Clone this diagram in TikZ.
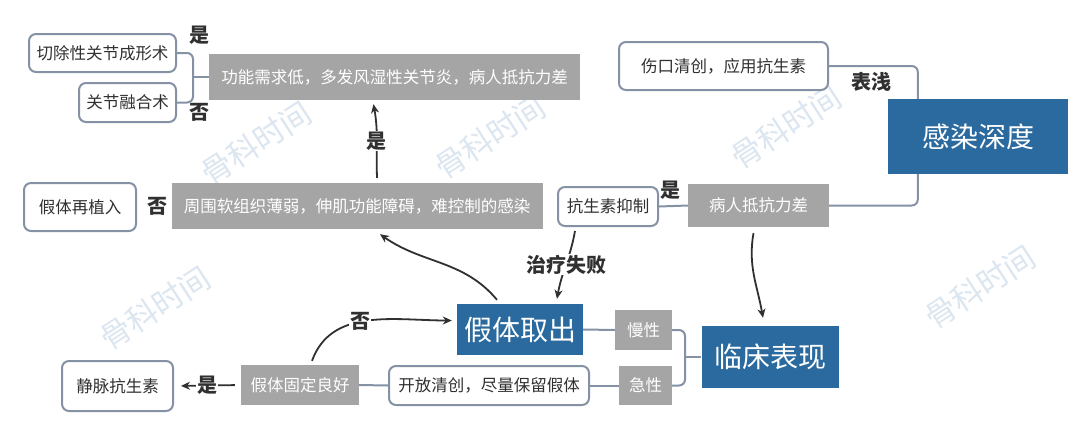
\documentclass[tikz,border=0pt]{standalone}
\usepackage{fontspec}
\setmainfont{Noto Sans CJK SC}
\usetikzlibrary{arrows.meta, positioning, calc}
\definecolor{boxgray}{HTML}{A5A5A5}
\definecolor{deepblue}{HTML}{2B6A9E}
\definecolor{linegray}{HTML}{8592A6}
\definecolor{inkdark}{HTML}{303030}
\definecolor{markblue}{HTML}{DCE6F0}
\tikzset{
    mindmap/.style={x=1pt, y=-1pt, >={Stealth[length=9pt, width=8pt]}},
    graybox/.style={fill=boxgray, text=white, inner sep=0pt, font=\fontsize{16.5}{19}\selectfont},
    bluebox/.style={fill=deepblue, text=white, inner sep=0pt, font=\fontsize{28}{31}\selectfont},
    whitebox/.style={draw=linegray, fill=white, line width=2pt, rounded corners=7pt, inner sep=0pt, text=inkdark, font=\fontsize{16.5}{19}\selectfont},
    link/.style={draw=linegray, line width=2pt, rounded corners=6pt},
    flow/.style={->, draw=inkdark, line width=1.8pt},
    % bold yes/no words that sit on or beside a connector
    tag/.style={text=inkdark, inner sep=1pt, font=\bfseries\fontsize{20}{22}\selectfont},
    stamp/.style={text=markblue, rotate=33, font=\fontsize{31}{33}\selectfont},
}

\begin{document}
\begin{tikzpicture}[mindmap]
    \fill[white] (0,0) rectangle (1080,432);
    \useasboundingbox (0,0) rectangle (1080,432);

    % watermarks
    \node[stamp] (mark1) at (256,143) {骨科时间};
    \node[stamp] (mark2) at (490,137) {骨科时间};
    \node[stamp] (mark3) at (786,127) {骨科时间};
    \node[stamp] (mark4) at (155,308) {骨科时间};
    \node[stamp] (mark5) at (980,287) {骨科时间};

    % top left
    \node[whitebox, minimum width=147pt, minimum height=38pt] (excise)    at (102.5,53)  {切除性关节成形术};
    \node[whitebox, minimum width=97pt,  minimum height=39pt] (fusion)    at (127.5,102.5) {关节融合术};
    \node[graybox,  minimum width=371pt, minimum height=46pt] (lowdemand) at (394.5,77)  {功能需求低，多发风湿性关节炎，病人抵抗力差};
    \coordinate (fork1) at (193,77);
    \node[tag] (yes1) at (199,35)  {是};
    \node[tag] (no1)  at (199,112) {否};

    % middle row
    \node[whitebox, minimum width=112pt, minimum height=48pt] (reimplant)  at (80,207)    {假体再植入};
    \node[tag] (no2) at (157,206) {否};
    \node[graybox,  minimum width=371pt, minimum height=46pt] (softtissue) at (357,206)   {周围软组织薄弱，伸肌功能障碍，难控制的感染};
    \node[whitebox, minimum width=100pt, minimum height=39pt] (suppress)   at (608,206.5) {抗生素抑制};
    \node[tag] (yes3) at (670,190) {是};
    \node[graybox,  minimum width=141pt, minimum height=43pt] (weakhost)   at (758.5,205.5) {病人抵抗力差};

    % top right
    \node[whitebox, minimum width=209pt, minimum height=48pt] (debride) at (723.5,66)  {伤口清创，应用抗生素};
    \node[bluebox,  minimum width=180pt, minimum height=75pt] (depth)   at (978,136.5) {感染深度};
    \node[tag] (shallow) at (871,82) {表浅};

    % bottom row
    \node[bluebox,  minimum width=126pt, minimum height=51pt] (removal)  at (520,329.5) {假体取出};
    \node[graybox,  minimum width=57pt,  minimum height=40pt] (chronic)  at (643.5,330) {慢性};
    \node[graybox,  minimum width=53pt,  minimum height=39pt] (acute)    at (645.5,385.5) {急性};
    \coordinate (fork2) at (685,357);
    \node[bluebox,  minimum width=137pt, minimum height=62pt] (clinical) at (770,357) {临床表现};
    \node[whitebox, minimum width=200pt, minimum height=39pt] (keepjoint) at (489,385.5) {开放清创，尽量保留假体};
    \node[graybox,  minimum width=118pt, minimum height=40pt] (fixed)    at (300,385) {假体固定良好};
    \node[whitebox, minimum width=111pt, minimum height=50pt] (iv)       at (117.5,386) {静脉抗生素};

    % plain links
    \draw[link] (excise.east) -| (fork1) |- (fusion.east);
    \draw[link] (fork1) -- (lowdemand.west);
    \draw[link] (debride.east) -| ($(depth.north west)+(30,0)$);
    \draw[link] ($(depth.south west)+(30,0)$) |- (weakhost.east);
    \draw[link] (suppress.east) -- (weakhost.west);
    \draw[link] (removal.east) -- (chronic.west);
    \draw[link] (chronic.east) -| (fork2) |- (acute.east);
    \draw[link] (fork2) -- (clinical.west);
    \draw[link] (keepjoint.east) -- (acute.west);
    \draw[link] (fixed.east) -- (keepjoint.west);

    % arrows
    \draw[flow] ($(softtissue.north)+(20,-5)$) to[out=92, in=-80] node[tag, fill=white] (yes2) {是} ($(lowdemand.south)+(-21,4)$);
    \draw[flow] ($(removal.north)+(-23,-4)$) to[out=130, in=-35] ($(softtissue.south)+(23,5)$);
    \draw[flow] ($(suppress.south)+(-33,4)$) to[out=-100, in=80] node[tag, fill=white] (failure) {治疗失败} ($(removal.north)+(37,-5)$);
    \draw[flow] ($(weakhost.south)+(-5,6)$) to[out=-100, in=100] ($(clinical.north)+(-7,-8)$);
    \draw[flow] ($(fixed.north)+(12,-4)$) to[out=70, in=180] node[tag, fill=white, pos=0.45] (no3) {否} ($(removal.west)+(-5,-9)$);
    \draw[flow, shorten <=6pt, shorten >=7pt] (fixed.west) -- node[tag, fill=white] (yes4) {是} (iv.east);
\end{tikzpicture}
\end{document}
